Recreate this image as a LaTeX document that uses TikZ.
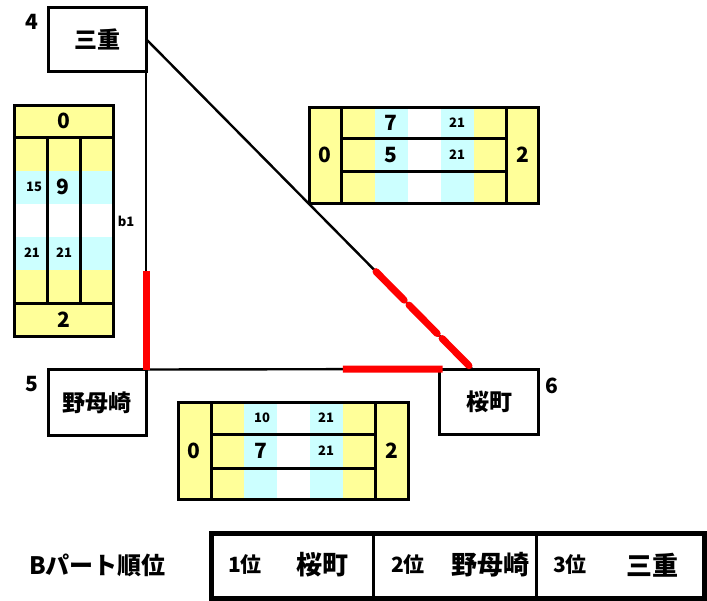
\documentclass[tikz,border=0pt]{standalone}
\usepackage{fontspec}
\setmainfont{Noto Sans CJK JP}
\usetikzlibrary{calc}
\definecolor{sbyellow}{HTML}{FFFF99}
\definecolor{sbcyan}{HTML}{CCFFFF}
\definecolor{hired}{HTML}{FF0000}
\begin{document}
\begin{tikzpicture}[x=1pt,y=-1pt,
  team/.style={draw,line width=3pt,outer sep=0pt,inner sep=0pt,font=\fontsize{23}{23}\selectfont\bfseries},
  board/.style={draw,line width=3pt},
  big/.style={inner sep=0pt,font=\fontsize{21}{21}\selectfont\bfseries},
  small/.style={inner sep=0pt,font=\fontsize{13}{13}\selectfont\bfseries},
  link/.style={line width=2.4pt},
  hilite/.style={hired,line width=7pt},
  rank/.style={inner sep=0pt,font=\fontsize{21}{21}\selectfont\bfseries},
  rname/.style={inner sep=0pt,font=\fontsize{26}{26}\selectfont\bfseries},
]
\useasboundingbox (0,0) rectangle (707,600);

% team boxes
\node[team,minimum width=98pt,minimum height=64pt] (sanjyu) at (97,39) {三重};
\node[team,minimum width=98pt,minimum height=66pt] (nomozaki) at (97,402.5) {野母崎};
\node[team,minimum width=98.5pt,minimum height=65pt] (sakura) at (489,401.5) {桜町};
\node[big] (n4) at (32,22) {4};
\node[big] (n5) at (32,384) {5};
\node[big] (n6) at (552,386) {6};

% connectors
\coordinate (tip) at ($(sakura.north west)!0.33!(sakura.north east)$);
\draw[link] (sanjyu.south east) -- (nomozaki.north east);
\draw[link] (nomozaki.north east) -- (sakura.north west);
\draw[link] (sanjyu.east) -- (tip);
\draw[hilite] ($(sanjyu.south east)!0.67!(nomozaki.north east)$) -- (nomozaki.north east);
\draw[hilite] ($(nomozaki.north east)!0.67!(sakura.north west)$) -- ($(nomozaki.north east)!1.01!(sakura.north west)$);
\draw[hilite,line cap=round,dash pattern=on 40pt off 7pt] ($(sanjyu.east)!0.705!(tip)$) -- ($(sanjyu.east)!0.99!(tip)$);
\node[inner sep=0pt,font=\fontsize{13}{13}\selectfont\bfseries] (b1) at (126,221) {b1};

% left scoreboard (三重 - 野母崎)
\fill[sbyellow] (14.5,105.5) rectangle (113,336.5);
\fill[sbcyan] (14.5,170.7) rectangle (113,203.9);
\fill[white] (14.5,203.9) rectangle (113,237.1);
\fill[sbcyan] (14.5,237.1) rectangle (113,270.3);
\draw[board] (14.5,105.5) rectangle (113,336.5);
\draw[board] (14.5,137.5) -- (113,137.5) (14.5,303.5) -- (113,303.5)
  (47,137.5) -- (47,303.5) (80.5,137.5) -- (80.5,303.5);
\node[big] (l0) at (64,121) {0};
\node[big] (l2) at (64,320) {2};
\node[small] (l15) at (34,187) {15};
\node[big] (l9) at (63,187) {9};
\node[small] (l21a) at (32,252.5) {21};
\node[small] (l21b) at (64,252.5) {21};

% top-right scoreboard (三重 - 桜町)
\fill[sbyellow] (309,107) rectangle (538.5,203.5);
\fill[sbcyan] (374.5,107) rectangle (407.5,203.5);
\fill[white] (407.5,107) rectangle (440.5,203.5);
\fill[sbcyan] (440.5,107) rectangle (473.5,203.5);
\draw[board] (309,107) rectangle (538.5,203.5);
\draw[board] (341.5,107) -- (341.5,203.5) (506.5,107) -- (506.5,203.5)
  (341.5,138.5) -- (506.5,138.5) (341.5,171.5) -- (506.5,171.5);
\node[big] (r0) at (325,155) {0};
\node[big] (r2) at (522.5,155) {2};
\node[big] (r7) at (391,122.5) {7};
\node[small] (r21a) at (457,122.5) {21};
\node[big] (r5) at (391,155) {5};
\node[small] (r21b) at (457,155) {21};

% bottom scoreboard (野母崎 - 桜町)
\fill[sbyellow] (178,402) rectangle (408,499.5);
\fill[sbcyan] (244.3,402) rectangle (277.1,499.5);
\fill[white] (277.1,402) rectangle (309.9,499.5);
\fill[sbcyan] (309.9,402) rectangle (342.7,499.5);
\draw[board] (178,402) rectangle (408,499.5);
\draw[board] (211.5,402) -- (211.5,499.5) (375.5,402) -- (375.5,499.5)
  (211.5,434.5) -- (375.5,434.5) (211.5,468.5) -- (375.5,468.5);
\node[big] (m0) at (193.5,451) {0};
\node[big] (m2) at (391.5,451) {2};
\node[small] (m10) at (262,418) {10};
\node[small] (m21a) at (326,418) {21};
\node[big] (m7) at (261,451) {7};
\node[small] (m21b) at (326,451) {21};

% ranking
\node[inner sep=0pt,font=\fontsize{24}{24}\selectfont\bfseries] (head) at (97.5,565) {Bパート順位};
\draw[line width=5pt] (211,533.5) rectangle (704.5,598);
\draw[line width=2.5pt] (373.5,533.5) -- (373.5,598);
\draw[line width=3pt] (536.5,533.5) -- (536.5,598);
\node[rank] (p1) at (245,565) {1位};
\node[rname] (t1) at (322,565) {桜町};
\node[rank] (p2) at (408,565) {2位};
\node[rname] (t2) at (490,565) {野母崎};
\node[rank] (p3) at (570,565) {3位};
\node[rname] (t3) at (652,565) {三重};
\end{tikzpicture}
\end{document}
